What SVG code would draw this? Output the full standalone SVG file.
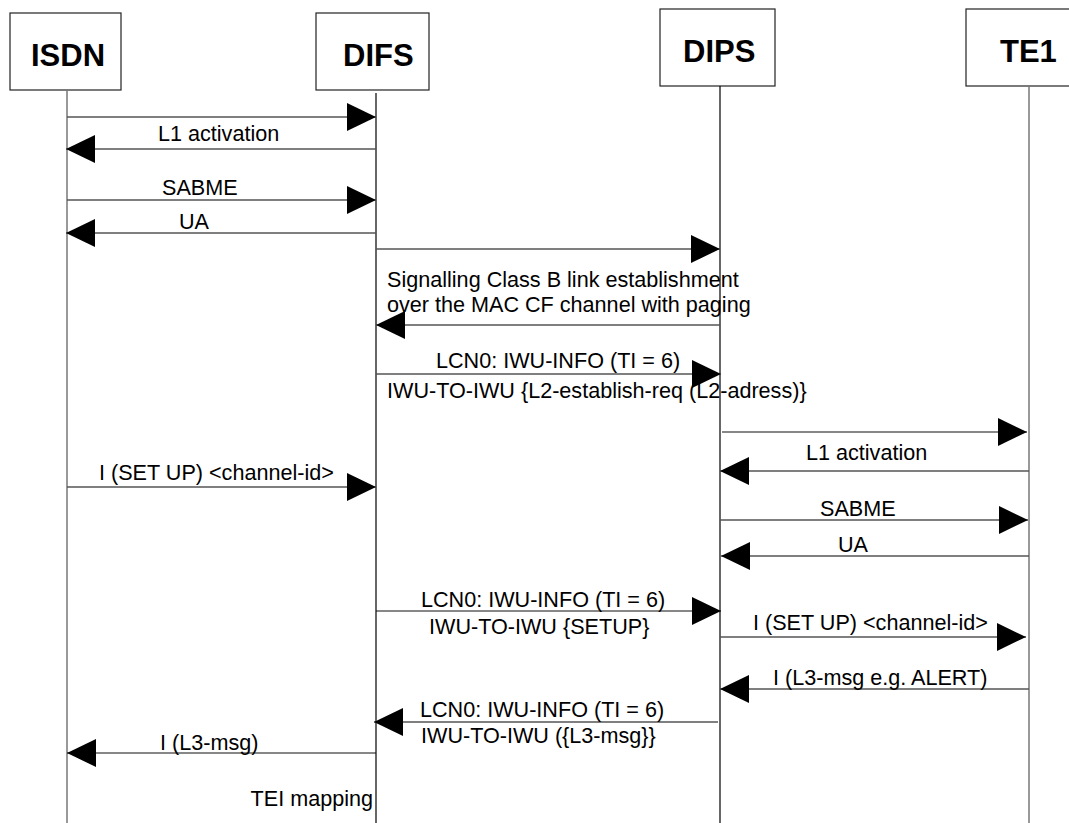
<svg xmlns="http://www.w3.org/2000/svg" width="1069" height="823" viewBox="0 0 1069 823">
<style>
.box{fill:#fff;stroke:#222;stroke-width:1.2}
.title{font-family:"Liberation Sans",Arial,sans-serif;font-weight:bold;font-size:31px;fill:#000}
.life{stroke:#000;stroke-width:1.2;fill:none}
.lifeg{stroke:#777;stroke-width:1.5;fill:none}
.msg{stroke:#555;stroke-width:1.3;fill:none;marker-end:url(#head)}
.msgb{stroke:#111;stroke-width:1.2;fill:none;marker-end:url(#head)}
.lbl{font-family:"Liberation Sans",Arial,sans-serif;font-size:21.6px;fill:#000}
</style>
<defs>
<marker id="head" markerUnits="userSpaceOnUse" markerWidth="30" markerHeight="29" refX="29" refY="14" orient="auto" viewBox="0 0 30 29">
<path d="M0,0 L29,14 L0,28 Z" fill="#000"/>
</marker>
</defs>
<rect width="1069" height="823" fill="#fff"/>
<g id="ISDN">
<rect class="box" x="10" y="13" width="111" height="77"/>
<text class="title" x="31" y="66">ISDN</text>
<line class="lifeg" x1="67" y1="90" x2="67" y2="823"/>
</g>
<g id="DIFS">
<rect class="box" x="316" y="13" width="113" height="77"/>
<text class="title" x="343" y="66">DIFS</text>
<line class="life" x1="376" y1="93" x2="376" y2="823"/>
</g>
<g id="DIPS">
<rect class="box" x="660" y="9" width="115" height="77"/>
<text class="title" x="683" y="62">DIPS</text>
<line class="life" x1="720" y1="86" x2="720" y2="823"/>
</g>
<g id="TE1">
<rect class="box" x="966" y="9" width="110" height="77"/>
<text class="title" x="1000" y="62">TE1</text>
<line class="lifeg" x1="1029" y1="86" x2="1029" y2="823"/>
</g>
<g id="connectors">
<g id="m1"><line class="msg" x1="67" y1="117" x2="376" y2="117"/></g>
<g id="m2"><line class="msg" x1="376" y1="149" x2="66" y2="149"/><text class="lbl" x="158" y="141">L1 activation</text></g>
<g id="m3"><line class="msg" x1="67" y1="200" x2="376" y2="200"/><text class="lbl" x="162" y="195">SABME</text></g>
<g id="m4"><line class="msg" x1="376" y1="233" x2="66" y2="233"/><text class="lbl" x="179" y="229">UA</text></g>
<g id="m5"><line class="msg" x1="376" y1="249" x2="720" y2="249"/></g>
<g id="m6"><line class="msg" x1="720" y1="325" x2="376" y2="325"/><text class="lbl" x="387" y="287">Signalling Class B link establishment</text><text class="lbl" x="387" y="312">over the MAC CF channel with paging</text></g>
<g id="m7"><line class="msg" x1="376" y1="374" x2="721" y2="374"/><text class="lbl" x="436" y="368">LCN0: IWU-INFO (TI = 6)</text><text class="lbl" x="387" y="398">IWU-TO-IWU {L2-establish-req (L2-adress)}</text></g>
<g id="m8"><line class="msgb" x1="722" y1="432" x2="1027" y2="432"/></g>
<g id="m9"><line class="msg" x1="1029" y1="471" x2="720" y2="471"/><text class="lbl" x="806" y="460">L1 activation</text></g>
<g id="m10"><line class="msg" x1="67" y1="487" x2="376" y2="487"/><text class="lbl" x="99" y="480">I (SET UP) &lt;channel-id&gt;</text></g>
<g id="m11"><line class="msg" x1="720" y1="520" x2="1028" y2="520"/><text class="lbl" x="820" y="516">SABME</text></g>
<g id="m12"><line class="msg" x1="1029" y1="556" x2="721" y2="556"/><text class="lbl" x="838" y="552">UA</text></g>
<g id="m13"><line class="msgb" x1="376" y1="611" x2="721" y2="611"/><text class="lbl" x="421" y="607">LCN0: IWU-INFO (TI = 6)</text><text class="lbl" x="429" y="634">IWU-TO-IWU {SETUP}</text></g>
<g id="m14"><line class="msg" x1="720" y1="637" x2="1026" y2="637"/><text class="lbl" x="753" y="630">I (SET UP) &lt;channel-id&gt;</text></g>
<g id="m15"><line class="msg" x1="1029" y1="689" x2="720" y2="689"/><text class="lbl" x="773" y="685">I (L3-msg e.g. ALERT)</text></g>
<g id="m16"><line class="msg" x1="718" y1="722" x2="374" y2="722"/><text class="lbl" x="420" y="717">LCN0: IWU-INFO (TI = 6)</text><text class="lbl" x="421" y="743">IWU-TO-IWU ({L3-msg}}</text></g>
<g id="m17"><line class="msgb" x1="376" y1="753" x2="67" y2="753"/><text class="lbl" x="160" y="750">I (L3-msg)</text></g>
<text class="lbl" x="373" y="806" text-anchor="end">TEI mapping</text>
</g>
</svg>
